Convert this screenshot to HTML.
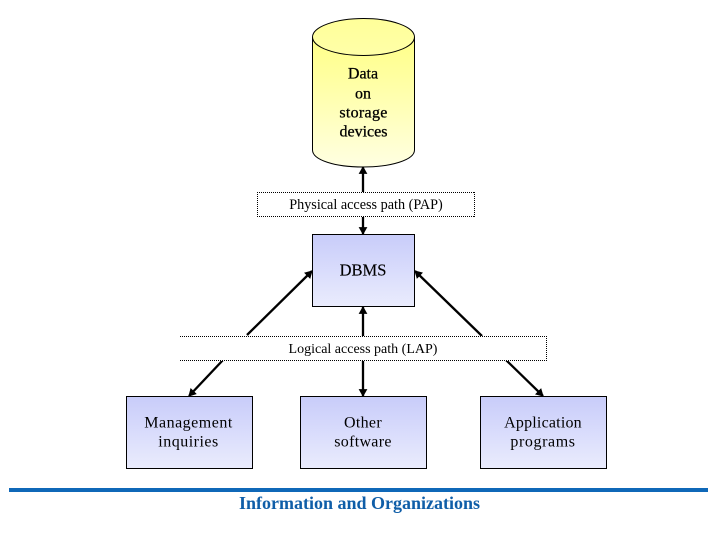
<!DOCTYPE html>
<html><head><meta charset="utf-8"><style>
html,body{margin:0;padding:0;background:#fff}
svg{display:block}
text{font-family:"Liberation Serif",serif;text-anchor:middle;fill:#000}
</style></head><body>
<svg width="720" height="540" viewBox="0 0 720 540" xmlns="http://www.w3.org/2000/svg">
<defs>
<linearGradient id="y" x1="0" y1="0" x2="0" y2="1"><stop offset="0" stop-color="#ffff88"/><stop offset="0.3" stop-color="#ffffa0"/><stop offset="1" stop-color="#ffffe2"/></linearGradient>
<linearGradient id="t" x1="0" y1="0" x2="0" y2="1"><stop offset="0" stop-color="#ffff99"/><stop offset="1" stop-color="#ffffa8"/></linearGradient>
<linearGradient id="b" x1="0" y1="0" x2="0" y2="1"><stop offset="0" stop-color="#c8ccfa"/><stop offset="1" stop-color="#eaecfd"/></linearGradient>
<marker id="a" markerWidth="4" markerHeight="5" refX="3" refY="2.500" orient="auto-start-reverse" markerUnits="strokeWidth"><path d="M0,0.6L3.400,2.500L0,4.400z" fill="#000"/></marker>
</defs>
<path d="M312.500 37V150C312.500 160 335 167 363 167C391 167 414.500 160 414.500 150V37" fill="url(#y)" stroke="#000"/>
<ellipse cx="363.500" cy="37" rx="51" ry="18.500" fill="url(#t)" stroke="#000"/>
<rect x="312.500" y="234.500" width="102" height="72" fill="url(#b)" stroke="#000"/>
<rect x="126.500" y="396.500" width="126" height="72" fill="url(#b)" stroke="#000"/>
<rect x="300.500" y="396.500" width="126" height="72" fill="url(#b)" stroke="#000"/>
<rect x="480.500" y="396.500" width="126" height="72" fill="url(#b)" stroke="#000"/>
<g stroke="#000" stroke-width="2.300" fill="none">
<line x1="363" y1="193" x2="363" y2="167" marker-end="url(#a)"/>
<line x1="363" y1="217" x2="363" y2="234" marker-end="url(#a)"/>
<line x1="363" y1="336" x2="363" y2="307" marker-end="url(#a)"/>
<line x1="363" y1="361" x2="363" y2="396" marker-end="url(#a)"/>
<line x1="247" y1="335" x2="312" y2="271" marker-end="url(#a)"/>
<line x1="482" y1="336" x2="415" y2="271" marker-end="url(#a)"/>
<line x1="223" y1="360" x2="189" y2="396" marker-end="url(#a)"/>
<line x1="506" y1="360" x2="543" y2="396" marker-end="url(#a)"/>
</g>
<rect x="257" y="192" width="218" height="25" fill="#fff"/>
<rect x="180" y="336" width="367" height="25" fill="#fff"/>
<g stroke="#000" stroke-dasharray="1 1" fill="none" shape-rendering="crispEdges">
<path d="M257 192.500H475M257 216.500H475M474.500 192V217M257.500 192V217"/>
<path d="M180 336.500H547M180 360.500H547M546.500 336V361"/>
</g>
<g font-size="16">
<text x="363" y="78.500" stroke="#000" stroke-width="0.300">Data</text>
<text x="363" y="98.500" stroke="#000" stroke-width="0.300">on</text>
<text x="363.500" y="117.500" letter-spacing="0.300" stroke="#000" stroke-width="0.300">storage</text>
<text x="363.500" y="136.500" stroke="#000" stroke-width="0.300">devices</text>
<text x="363" y="275.500" font-size="16.500" stroke="#000" stroke-width="0.150">DBMS</text>
<text x="188.500" y="427.500" letter-spacing="0.500">Management</text>
<text x="188.500" y="446.500" letter-spacing="0.500">inquiries</text>
<text x="363" y="427.500" letter-spacing="0.300">Other</text>
<text x="363" y="446.500" letter-spacing="0.300">software</text>
<text x="543" y="427.500" letter-spacing="0.200">Application</text>
<text x="543" y="446.500" letter-spacing="0.600">programs</text>
</g>
<text x="366" y="209" font-size="14.200">Physical access path (PAP)</text>
<text x="363" y="353" font-size="14">Logical access path (LAP)</text>
<rect x="9" y="488" width="699" height="4" fill="#0f68b8"/>
<text x="359.500" y="509" font-size="18" font-weight="700" style="fill:#0f5ea8">Information and Organizations</text>
</svg>
</body></html>
